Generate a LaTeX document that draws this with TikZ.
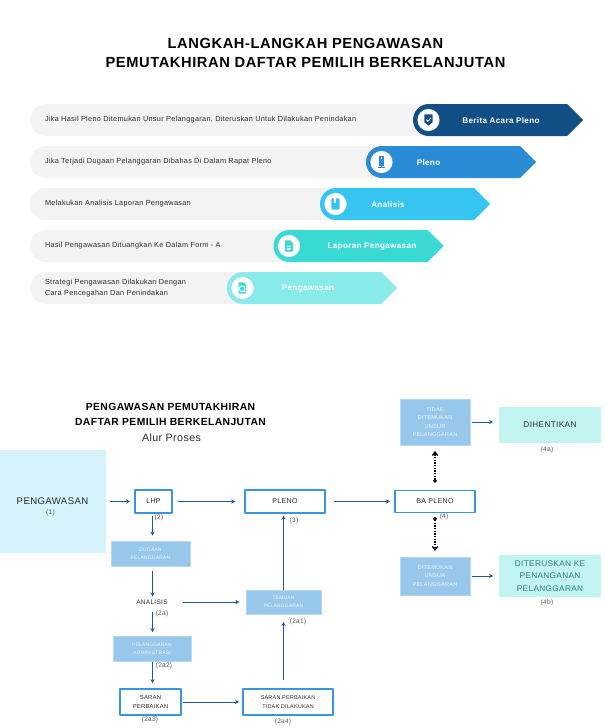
\documentclass[tikz,border=0pt]{standalone}
\usepackage{fontspec}
\setmainfont{Liberation Sans}[LetterSpace=4]
\usetikzlibrary{arrows.meta}
\definecolor{barback}{HTML}{F3F3F3}
\definecolor{barone}{HTML}{134F87}
\definecolor{bartwo}{HTML}{2A8CD5}
\definecolor{barthree}{HTML}{36C5F0}
\definecolor{barfour}{HTML}{3BD9D3}
\definecolor{barfive}{HTML}{88EBEA}
\definecolor{flowcol}{HTML}{1F5A94}
\definecolor{framecol}{HTML}{3A96DC}
\definecolor{softblue}{HTML}{97C7EA}
\definecolor{softcyan}{HTML}{D6F3FB}
\definecolor{softteal}{HTML}{C2F4F2}
\definecolor{inkcol}{HTML}{2B2B2B}
\def\u{0.75pt}
\tikzset{
	boxsize/.style 2 args={minimum width=#1*\u,minimum height=#2*\u},
	every node/.style={inner sep=0pt,outer sep=0pt,text=inkcol},
	mainhead/.style={font=\fontsize{11}{14.2}\selectfont\bfseries,align=center,text=black},
	subhead/.style={font=\fontsize{7.75}{10.6}\selectfont\bfseries,align=center,text=black},
	barlabel/.style={font=\fontsize{5.5}{8}\selectfont,align=left,anchor=west},
	bartitle/.style={font=\fontsize{6.1}{8}\selectfont\bfseries,text=white},
	softbox/.style={fill=softblue,draw=softblue!70!white,line width=.4pt,text=white!85!softblue,align=center,font=\fontsize{3.7}{6}\selectfont},
	framebox/.style={fill=white,draw=framecol,line width=1.3pt,align=center,font=\fontsize{5.3}{6.4}\selectfont},
	stepnum/.style={font=\fontsize{4.9}{6}\selectfont,text=inkcol!80!white},
	flow/.style={-{Stealth[length=3pt,width=3.2pt]},flowcol,line width=.65pt},
	dotflow/.style={{Circle[length=2.6pt]}-{Straight Barb[length=2.6pt,width=4pt]},black,line width=1pt,dash pattern=on 1pt off 1pt},
	iconshield/.pic={
		\fill[barone] (-6,-8) -- (6,-8) -- (6,3) -- (0,8) -- (-6,3) -- cycle;
		\draw[white,line width=.7pt] (-3,-.5) -- (-.8,2) -- (3.2,-3);},
	iconscreen/.pic={
		\fill[bartwo] (-4,-9) rectangle (4,5);
		\fill[white] (-1.2,-6.5) rectangle (1.2,-4.5);
		\draw[bartwo,line width=.6pt] (-5,7) -- (5,7) (0,5) -- (0,7);},
	iconbook/.pic={
		\fill[barthree,rounded corners=.8pt] (-6,-8) rectangle (6,8);
		\fill[white] (-2,-8) rectangle (1,-1);},
	icondoc/.pic={
		\fill[barfour] (-5.5,-8) -- (2,-8) -- (5.5,-4) -- (5.5,8) -- (-5.5,8) -- cycle;
		\draw[white,line width=.6pt] (-3,0) -- (3,0) (-3,3) -- (3,3) (-3,5.5) -- (1,5.5);},
	iconlens/.pic={
		\fill[barfour] (-5.5,-8) -- (2,-8) -- (5.5,-4) -- (5.5,8) -- (-5.5,8) -- cycle;
		\draw[white,line width=.7pt] (-.5,1) circle[radius=3pt] (1.5,3.5) -- (4,6);},
}
\begin{document}
\begin{tikzpicture}[x=\u,y=-\u,line join=round]
	\useasboundingbox (0,0) rectangle (606,728);
	\node[mainhead] (mainhead) at (305.5,52.5) {LANGKAH-LANGKAH PENGAWASAN\\PEMUTAKHIRAN DAFTAR PEMILIH BERKELANJUTAN};
	% the five bars
	\foreach \row/\xs/\yt/\col/\lab/\lx/\txt in {
		one/413/104/barone/{Berita Acara Pleno}/501/{Jika Hasil Pleno Ditemukan Unsur Pelanggaran, Diteruskan Untuk Dilakukan Penindakan},
		two/366/146/bartwo/{Pleno}/428.5/{Jika Terjadi Dugaan Pelanggaran Dibahas Di Dalam Rapat Pleno},
		three/320/188/barthree/{Analisis}/388/{Melakukan Analisis Laporan Pengawasan},
		four/273.5/230/barfour/{Laporan Pengawasan}/372/{Hasil Pengawasan Dituangkan Ke Dalam Form - A},
		five/227/272/barfive/{Pengawasan}/308/{Strategi Pengawasan Dilakukan Dengan\\Cara Pencegahan Dan Penindakan}}{
		\fill[barback,rounded corners=12pt] (30,\yt) rectangle (\xs+40,\yt+32);
		\fill[\col] (\xs+16,\yt) -- (\xs+154,\yt) -- (\xs+170,\yt+16) -- (\xs+154,\yt+32) -- (\xs+16,\yt+32) arc[start angle=270,end angle=90,radius=12pt] -- cycle;
		\fill[white] (\xs+15.5,\yt+16) circle[radius=8.3pt];
		\node[barlabel] (text\row) at (45,\yt+16) {\txt};
		\node[bartitle] (title\row) at (\lx,\yt+16.8) {\lab};
	}
	\pic[scale=.7] at (428.5,120) {iconshield};
	\pic[scale=.7] at (381.5,162) {iconscreen};
	\pic[scale=.7] at (335.5,204) {iconbook};
	\pic[scale=.7] at (289,246) {icondoc};
	\pic[scale=.7] at (242.5,288) {iconlens};
	% flow chart
	\node[subhead] (subhead) at (170.5,414.5) {PENGAWASAN PEMUTAKHIRAN\\DAFTAR PEMILIH BERKELANJUTAN};
	\node[font=\fontsize{8}{10}\selectfont] (alur) at (171.5,438) {Alur Proses};
	\node[fill=softcyan,boxsize={106}{103}] (pengawasan) at (53,501.5) {};
	\node[font=\fontsize{7.2}{9}\selectfont] (pengawasantext) at (52.5,501) {PENGAWASAN};
	\node[stepnum] (n1) at (50.5,512.5) {(1)};
	\node[framebox,boxsize={37}{23}] (lhp) at (153.5,501.5) {LHP};
	\node[framebox,boxsize={80}{23}] (pleno) at (285,501.5) {PLENO};
	\node[framebox,boxsize={80}{22}] (baplen) at (435,501.5) {BA PLENO};
	\node[softbox,boxsize={79}{25}] (dugaan) at (150.5,553.5) {DUGAAN\\PELANGGARAN};
	\node[boxsize={62}{10},font=\fontsize{4.9}{6}\selectfont] (analisis) at (152,602) {ANALISIS};
	\node[softbox,boxsize={75}{24}] (temuan) at (283.5,602) {TEMUAN\\PELANGGARAN};
	\node[softbox,boxsize={78}{25}] (admin) at (152,648.5) {PELANGGARAN\\ADMINISTRASI};
	\node[framebox,boxsize={61}{26},font=\fontsize{4.4}{6.2}\selectfont] (saran) at (150.5,702) {SARAN\\PERBAIKAN};
	\node[framebox,boxsize={90}{26},font=\fontsize{4.1}{6.4}\selectfont] (sarantidak) at (288,702) {SARAN PERBAIKAN\\TIDAK DILAKUKAN};
	\node[softbox,boxsize={70}{46},font=\fontsize{4.2}{6.2}\selectfont] (tidak) at (435,422) {TIDAK\\DITEMUKAN\\UNSUR\\PELANGGARAN};
	\node[softbox,boxsize={70}{38},font=\fontsize{4.2}{6.2}\selectfont] (ditemukan) at (435,576) {DITEMUKAN\\UNSUR\\PELANGGARAN};
	\node[fill=softteal,boxsize={102}{36},font=\fontsize{6.2}{8}\selectfont,text=inkcol!90!teal] (dihentikan) at (550,425) {DIHENTIKAN};
	\node[fill=softteal,boxsize={102}{42},align=center,font=\fontsize{6.2}{9.3}\selectfont,text=teal!65!gray] (diteruskan) at (550,576) {DITERUSKAN KE\\PENANGANAN\\PELANGGARAN};
	\node[stepnum] (n2) at (159,518) {(2)};
	\node[stepnum] (n3) at (294,521) {(3)};
	\node[stepnum] (n2a) at (162,614) {(2a)};
	\node[stepnum] (n2a1) at (298,622) {(2a1)};
	\node[stepnum] (n2a2) at (164,666) {(2a2)};
	\node[stepnum] (n2a3) at (150,720) {(2a3)};
	\node[stepnum] (n2a4) at (283,722) {(2a4)};
	\node[stepnum] (n4) at (444,517) {(4)};
	\node[stepnum] (n4a) at (547,450) {(4a)};
	\node[stepnum] (n4b) at (547,603) {(4b)};
	% connectors
	\coordinate (spine) at (152.5,0);
	\coordinate (upline) at (283.5,0);
	\draw[flow,shorten <=3pt,shorten >=3.7pt] (pengawasan) -- (lhp);
	\draw[flow,shorten <=4.4pt,shorten >=7.4pt] (lhp) -- (pleno);
	\draw[flow,shorten <=6.4pt,shorten >=3.8pt] (pleno) -- (baplen);
	\draw[flow,shorten <=2pt,shorten >=4pt] (spine |- lhp.south) -- (spine |- dugaan.north);
	\draw[flow,shorten <=3.7pt,shorten >=.4pt] (spine |- dugaan.south) -- (spine |- analisis.north);
	\draw[flow,shorten <=3.7pt,shorten >=3pt] (spine |- analisis.south) -- (spine |- admin.north);
	\draw[flow,shorten <=.8pt,shorten >=4.4pt] (spine |- admin.south) -- (spine |- saran.north);
	\draw[flow,shorten >=5pt] (analisis) -- (temuan);
	\draw[flow,shorten <=1.5pt,shorten >=3pt] (saran) -- (sarantidak);
	\draw[flow,shorten <=6.5pt,shorten >=6pt] (upline |- sarantidak.north) -- (upline |- temuan.south);
	\draw[flow,shorten >=2pt] (upline |- temuan.north) -- (upline |- pleno.south);
	\draw[flow,shorten <=1.5pt,shorten >=4.5pt] (tidak.east) -- (tidak.east -| dihentikan.west);
	\draw[flow,shorten <=1.5pt,shorten >=4.5pt] (ditemukan) -- (diteruskan);
	\draw[dotflow,shorten <=6pt,shorten >=4.5pt] (baplen) -- (tidak);
	\draw[dotflow,shorten <=3.5pt,shorten >=4.5pt] (baplen) -- (ditemukan);
\end{tikzpicture}
\end{document}
